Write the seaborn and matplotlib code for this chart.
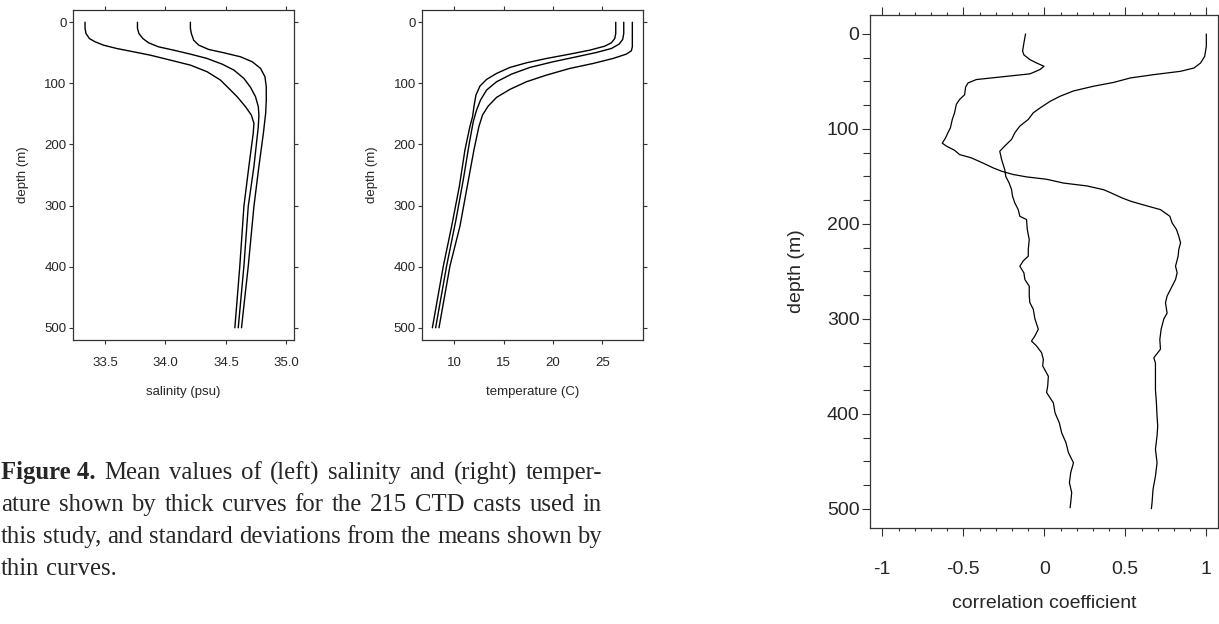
import matplotlib
matplotlib.use("Agg")
import matplotlib.pyplot as plt
from matplotlib.ticker import MultipleLocator
import seaborn as sns

# Perfiles de salinidad (psu) contra profundidad (m): media - sd, media, media + sd
sal_lo_depth = [0, 10, 18.5, 26.7, 32, 37.5, 43, 48.4, 53.9, 62, 70.2, 81, 94.7, 111, 121.9,
                138.2, 151.8, 165.4, 181.7, 236, 301, 399, 500]
sal_lo = [33.334, 33.334, 33.342, 33.37, 33.417, 33.486, 33.597, 33.735, 33.874, 34.04, 34.206,
          34.344, 34.455, 34.538, 34.593, 34.662, 34.71, 34.732, 34.726, 34.69, 34.649, 34.615, 34.574]
sal_mid_depth = [0, 10, 18.5, 26.7, 33.7, 40.3, 45.7, 52.2, 59.3, 68.6, 78.3, 92, 106.6, 121.9,
                 138.2, 151.8, 170.8, 236, 301, 399, 500]
sal_mid = [33.768, 33.768, 33.78, 33.813, 33.86, 33.943, 34.067, 34.206, 34.344, 34.469, 34.566,
           34.649, 34.704, 34.745, 34.768, 34.773, 34.768, 34.732, 34.685, 34.649, 34.602]
sal_hi_depth = [0, 10, 18.5, 29.4, 37.5, 44.6, 50, 56.6, 64.7, 75.6, 89.2, 105.5, 127.3, 149,
                181.7, 236, 301, 399, 500]
sal_hi = [34.206, 34.206, 34.214, 34.233, 34.275, 34.358, 34.483, 34.621, 34.718, 34.787, 34.823,
          34.834, 34.834, 34.829, 34.81, 34.773, 34.732, 34.685, 34.629]

# Perfiles de temperatura (C)
tem_lo_depth = [0, 18.5, 26.7, 33.7, 39.2, 45.7, 52.2, 59.3, 66.4, 74, 83.8, 93.6, 104.5, 119.2,
                138.2, 154.5, 170.8, 208.9, 268.8, 334, 399, 500]
tem_lo = [26.35, 26.35, 26.25, 25.91, 25.23, 23.72, 21.70, 19.34, 17.31, 15.63, 14.28, 13.27,
          12.6, 12.19, 11.99, 11.85, 11.58, 11.08, 10.51, 9.73, 8.89, 7.78]
tem_mid_depth = [0, 18.5, 28.3, 35.9, 43, 49.5, 56.6, 64.7, 74, 84.9, 97.4, 111, 127.3, 143.6,
                 162.7, 198, 257.9, 323.2, 399, 500]
tem_mid = [27.16, 27.16, 27.05, 26.68, 25.91, 24.39, 22.37, 20.01, 17.65, 15.80, 14.28, 13.27,
           12.66, 12.26, 11.92, 11.52, 10.91, 10.17, 9.22, 8.11]
tem_hi_depth = [0, 40.3, 46.8, 52.2, 59.3, 67.5, 75.6, 86.5, 97.4, 109.9, 123, 137.1, 151.8,
                170.8, 208.9, 268.8, 334, 399, 500]
tem_hi = [28.03, 28.03, 27.93, 27.42, 26.08, 24.05, 21.70, 19.34, 17.31, 15.63, 14.28, 13.44,
          12.86, 12.49, 11.99, 11.31, 10.57, 9.56, 8.45]

# Coeficientes de correlacion contra profundidad
corr_a_depth = [0, 9.5, 18, 22, 27, 30.5, 34, 37.5, 42, 44.6, 48, 51.6, 56, 64, 69, 74, 83, 90,
                99, 104, 109.5, 115, 118, 122.5, 127, 130.5, 136, 141, 144.5, 148, 150.5, 153,
                157, 160, 164, 167, 172.6, 176, 179.6, 185, 192, 199, 206, 213, 220, 227, 234,
                244.6, 251.6, 258.6, 269, 276, 283, 294, 300, 311, 322, 332, 341, 346.5, 360.5,
                374.6, 388.6, 402.6, 413, 423, 437.5, 451.6, 465.6, 479.7, 493.7, 500]
corr_a = [-0.116, -0.126, -0.134, -0.126, -0.089, -0.048, -0.002, -0.027, -0.089, -0.233, -0.42,
          -0.471, -0.486, -0.492, -0.523, -0.543, -0.554, -0.568, -0.58, -0.595, -0.61, -0.63,
          -0.605, -0.554, -0.523, -0.45, -0.378, -0.316, -0.264, -0.192, -0.11, 0.014, 0.118,
          0.262, 0.366, 0.407, 0.479, 0.531, 0.603, 0.717, 0.775, 0.789, 0.816, 0.83, 0.841,
          0.83, 0.826, 0.81, 0.82, 0.81, 0.779, 0.758, 0.748, 0.758, 0.738, 0.721, 0.713, 0.717,
          0.676, 0.686, 0.686, 0.686, 0.692, 0.696, 0.70, 0.696, 0.686, 0.696, 0.686, 0.671,
          0.665, 0.661]
corr_b_depth = [0, 13, 23.5, 30.5, 35.8, 39.3, 42.8, 46.3, 51, 55, 60, 65.6, 71, 78, 83, 90, 97,
                104, 111, 118, 123.5, 132, 143, 150, 157, 164, 171, 178, 185, 192, 195.4, 206,
                216.5, 227, 234, 239, 244.6, 251.6, 258.6, 265.6, 276, 283, 290, 300, 311, 318,
                323.4, 328.6, 335.6, 342.6, 349.6, 360.5, 370.6, 377.6, 388.6, 399, 409.7, 420,
                430.6, 441, 451.6, 462, 472.6, 483, 493.7, 499]
corr_b = [1.0, 1.0, 0.99, 0.965, 0.924, 0.841, 0.676, 0.531, 0.428, 0.304, 0.18, 0.097, 0.035,
          -0.027, -0.068, -0.099, -0.151, -0.182, -0.202, -0.244, -0.275, -0.264, -0.244, -0.238,
          -0.217, -0.202, -0.196, -0.182, -0.161, -0.151, -0.11, -0.105, -0.093, -0.099, -0.099,
          -0.13, -0.151, -0.126, -0.12, -0.093, -0.093, -0.089, -0.068, -0.058, -0.037, -0.058,
          -0.079, -0.048, -0.017, -0.006, -0.01, 0.025, 0.021, 0.014, 0.056, 0.066, 0.093, 0.107,
          0.134, 0.149, 0.18, 0.163, 0.155, 0.169, 0.163, 0.159]

sal_ticks = [33.5, 34.0, 34.5, 35.0]
tem_ticks = [10, 15, 20, 25]
depth_ticks = [0, 100, 200, 300, 400, 500]
corr_ticks = [-1, -0.5, 0, 0.5, 1]
corr_ticklabels = ["-1", "-0.5", "0", "0.5", "1"]

caption = [
    [("Figure 4.", True), ("Mean", False), ("values", False), ("of", False), ("(left)", False),
     ("salinity", False), ("and", False), ("(right)", False), ("temper-", False)],
    [(w, False) for w in "ature shown by thick curves for the 215 CTD casts used in".split()],
    [(w, False) for w in "this study, and standard deviations from the means shown by".split()],
    [(w, False) for w in "thin curves.".split()],
]

sns.set_style("ticks")
plt.rcParams['font.family'] = ['Liberation Sans', 'DejaVu Sans']
plt.rcParams['axes.edgecolor'] = '#333333'
plt.rcParams['axes.linewidth'] = 0.9

fig = plt.figure(figsize=(12.19, 6.24), dpi=100)
W, H = 1219.0, 624.0


def panel_pequeno(left_px, curvas, xlim, xticks, xlabel, ylabelpad):
    ax = fig.add_axes([left_px / W, 1 - 340 / H, 221 / W, 330 / H])
    for x, y in curvas:
        sns.lineplot(x=x, y=y, sort=False, estimator=None, color='black', lw=1.0, ax=ax)
    ax.set_xlim(*xlim)
    ax.set_ylim(520, -20)
    ax.set_xticks(xticks)
    ax.set_yticks(depth_ticks)
    ax.tick_params(which='both', direction='out', top=True, right=True, length=3.2,
                   width=0.8, color='#333333', labelsize=9.5)
    ax.tick_params(axis='x', pad=9)
    ax.tick_params(axis='y', pad=1.2)
    ax.set_xlabel(xlabel, fontsize=9.5, labelpad=12.5)
    ax.set_ylabel("depth (m)", fontsize=9.5, labelpad=ylabelpad)
    return ax


panel_pequeno(72.7, [(sal_lo, sal_lo_depth), (sal_mid, sal_mid_depth), (sal_hi, sal_hi_depth)],
              (33.232, 35.061), sal_ticks, "salinity (psu)", 11)
panel_pequeno(422, [(tem_lo, tem_lo_depth), (tem_mid, tem_mid_depth), (tem_hi, tem_hi_depth)],
              (6.73, 29.11), tem_ticks, "temperature (C)", 11.5)

# Panel de correlacion
ax3 = fig.add_axes([870 / W, 1 - 527.7 / H, 348.3 / W, 512.7 / H])
sns.lineplot(x=corr_a, y=corr_a_depth, sort=False, estimator=None, color='black', lw=0.9, ax=ax3)
sns.lineplot(x=corr_b, y=corr_b_depth, sort=False, estimator=None, color='black', lw=0.9, ax=ax3)
ax3.set_xlim(-1.076, 1.074)
ax3.set_ylim(520, -20)
ax3.set_xticks(corr_ticks)
ax3.set_xticklabels(corr_ticklabels)
ax3.set_yticks(depth_ticks)
ax3.xaxis.set_minor_locator(MultipleLocator(0.1))
ax3.yaxis.set_minor_locator(MultipleLocator(25))
ax3.tick_params(which='both', direction='out', top=True, right=False, color='#333333', width=0.8)
ax3.tick_params(which='major', length=6, labelsize=14)
ax3.tick_params(axis='x', which='minor', length=2.5)
ax3.tick_params(axis='y', which='minor', length=5)
ax3.tick_params(axis='x', pad=18)
ax3.tick_params(axis='y', pad=1.5)
ax3.set_xlabel("correlation coefficient", fontsize=14, labelpad=12)
ax3.set_ylabel("depth (m)", fontsize=14, labelpad=16)

# Pie de figura justificado
fig.canvas.draw()
renderer = fig.canvas.get_renderer()
cap_size = 17.8
ancho = 601.0
y_lineas = [473, 505, 537, 569]
for i, linea in enumerate(caption):
    textos = []
    for palabra, negrita in linea:
        t = fig.text(0, 1 - y_lineas[i] / H, palabra, fontsize=cap_size,
                     family=['Liberation Serif', 'DejaVu Serif'],
                     weight='bold' if negrita else 'normal', va='center', ha='left')
        textos.append(t)
    anchos = [t.get_window_extent(renderer).width for t in textos]
    if i < len(caption) - 1:
        hueco = (ancho - sum(anchos)) / (len(textos) - 1)
    else:
        hueco = cap_size * 100 / 72 * 0.25
    x = 1.0
    for t, a in zip(textos, anchos):
        t.set_x(x / W)
        x += a + hueco

fig.savefig("out.png", dpi=100)
